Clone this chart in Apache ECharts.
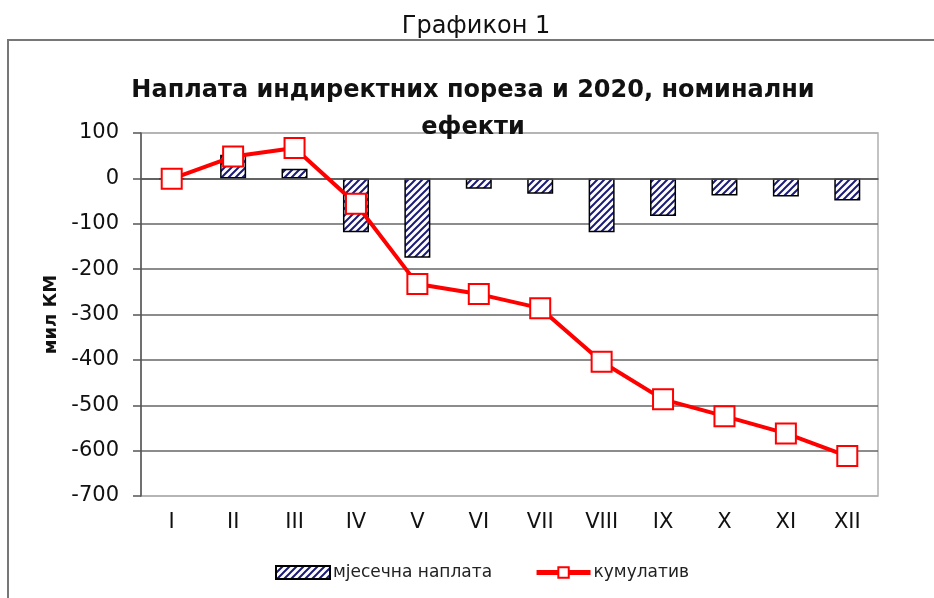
<!DOCTYPE html>
<html>
<head>
<meta charset="utf-8">
<script src="https://cdn.jsdelivr.net/npm/echarts@6/dist/echarts.min.js"></script>
<style>
  html, body { margin: 0; padding: 0; background: #fff; }
  #main { width: 934px; height: 598px; }
</style>
</head>
<body>
<div id="main"></div>
<script>
// подаци
let months = ['I', 'II', 'III', 'IV', 'V', 'VI', 'VII', 'VIII', 'IX', 'X', 'XI', 'XII'];
let monthly = [-2, 52, 21, -119, -175, -23, -34, -119, -83, -38, -40, -49];
let cumulative = [-1, 48, 67, -56, -233, -255, -286, -404, -487, -524, -562, -612];
let yTicks = [-700, -600, -500, -400, -300, -200, -100, 0, 100];

// шрафура за стубове
function hatch() {
    let c = document.createElement('canvas');
    c.width = 7; c.height = 7;
    let ctx = c.getContext('2d');
    ctx.fillStyle = '#fff';
    ctx.fillRect(0, 0, 7, 7);
    ctx.strokeStyle = '#1c1c78';
    ctx.lineWidth = 2;
    ctx.beginPath();
    ctx.moveTo(-1, 8); ctx.lineTo(8, -1);
    ctx.moveTo(-1, 1); ctx.lineTo(1, -1);
    ctx.moveTo(6, 8); ctx.lineTo(8, 6);
    ctx.stroke();
    return { image: c, repeat: 'repeat' };
}

let myChart = echarts.init(document.getElementById('main'));

let gridColors = yTicks.map((v, i) => (i === 0 || i === yTicks.length - 1) ? '#b0b0b0' : '#666');

let option = {
    animation: false,
    backgroundColor: '#fff',
    textStyle: { fontFamily: 'DejaVu Sans' },
    graphic: [
        {
            type: 'rect',
            shape: { x: 8, y: 40, width: 940, height: 600 },
            style: { fill: 'none', stroke: '#777', lineWidth: 2 }
        },
        {
            type: 'text',
            x: 476, y: 27,
            style: {
                text: 'Графикон 1',
                fontSize: 24,
                fontFamily: 'DejaVu Sans',
                fill: '#111',
                textAlign: 'center',
                textVerticalAlign: 'middle'
            }
        }
    ],
    title: {
        text: 'Наплата индиректних пореза и 2020, номинални\nефекти',
        left: 468,
        top: 67,
        textAlign: 'center',
        textStyle: {
            fontFamily: 'DejaVu Sans',
            fontSize: 24,
            fontWeight: 'bold',
            color: '#111',
            lineHeight: 37
        }
    },
    legend: {
        left: 270,
        top: 559,
        itemWidth: 54,
        itemHeight: 13,
        itemGap: 42,
        textStyle: { fontFamily: 'DejaVu Sans', fontSize: 17, color: '#222', padding: [0, 0, 0, -2] },
        data: [
            { name: 'мјесечна наплата', icon: 'rect' },
            { name: 'кумулатив', lineStyle: { width: 5 } }
        ]
    },
    grid: { left: 141, right: 56, top: 133, bottom: 102, show: true, borderColor: '#b0b0b0', borderWidth: 1.5 },
    xAxis: [
        {
            type: 'category',
            data: months,
            axisLine: { onZero: true, lineStyle: { color: '#555', width: 1.5 } },
            axisTick: { length: 7, lineStyle: { color: '#555', width: 1.5 } },
            axisLabel: { show: false },
            z: 5
        },
        {
            type: 'category',
            data: months,
            position: 'bottom',
            axisLine: { show: false, onZero: false },
            axisTick: { show: false },
            axisLabel: { fontSize: 21, color: '#111', margin: 16, fontFamily: 'DejaVu Sans' }
        }
    ],
    yAxis: {
        type: 'value',
        min: -700,
        max: 100,
        interval: 100,
        name: 'мил КМ',
        nameLocation: 'middle',
        nameRotate: 90,
        nameGap: 72,
        nameTextStyle: { fontSize: 18, fontWeight: 'bold', color: '#111', fontFamily: 'DejaVu Sans' },
        axisLine: { show: true, lineStyle: { color: '#555', width: 1.5 } },
        axisTick: { show: true, length: 8, lineStyle: { color: '#555', width: 1.5 } },
        axisLabel: { fontSize: 21, color: '#111', margin: 22, fontFamily: 'DejaVu Sans' },
        splitLine: { lineStyle: { color: gridColors, width: 1.5 } }
    },
    series: [
        {
            name: 'мјесечна наплата',
            type: 'bar',
            data: monthly,
            barWidth: 26,
            itemStyle: { color: hatch(), borderColor: '#000', borderWidth: 1.5 },
            z: 2
        },
        {
            name: 'кумулатив',
            type: 'line',
            data: cumulative,
            symbol: 'rect',
            symbolSize: 20,
            lineStyle: { color: '#ff0000', width: 4 },
            itemStyle: { color: '#fff', borderColor: '#ff0000', borderWidth: 2 },
            z: 6
        }
    ]
};

myChart.setOption(option);
</script>
</body>
</html>
